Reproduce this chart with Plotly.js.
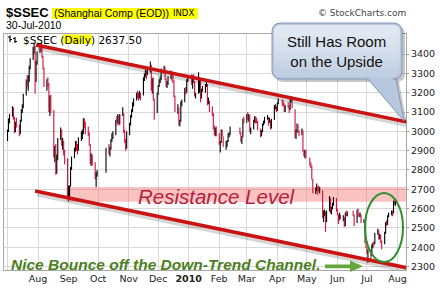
<!DOCTYPE html>
<html>
<head>
<meta charset="utf-8">
<script src="https://cdn.plot.ly/plotly-3.0.1.min.js"></script>
<style>html,body{margin:0;padding:0;background:#fff;}#chart{width:440px;height:289px;}</style>
</head>
<body>
<div id="chart"></div>
<script>
// ---- Data: [day, open, high, low, close] per trading day, grouped by month ----
const jul09 = [[1,2960,3008,2950,3008],[2,3005,3066,2996,3060],[3,3058,3090,3040,3088],[6,3090,3130,3075,3118],[7,3115,3125,3060,3074],[8,3070,3075,2990,3010],[9,3008,3050,2995,3046],[10,3046,3070,3020,3030],[13,3025,3035,2975,2990],[14,2992,3060,2985,3056],[15,3058,3115,3050,3113],[16,3112,3140,3095,3131],[17,3130,3195,3120,3189],[20,3190,3268,3185,3266],[21,3268,3290,3230,3261],[22,3258,3290,3210,3266],[23,3268,3340,3255,3338],[24,3340,3378,3320,3373],[27,3378,3438,3370,3435],[28,3436,3454,3400,3438],[29,3430,3442,3195,3266],[30,3270,3365,3255,3360],[31,3362,3415,3345,3412]];
const aug09 = [[3,3412,3455,3405,3450],[4,3452,3458,3410,3440],[5,3435,3440,3380,3390],[6,3385,3390,3320,3330],[7,3325,3330,3230,3245],[10,3245,3270,3210,3256],[11,3255,3280,3230,3250],[12,3245,3250,3100,3112],[13,3110,3185,3080,3179],[14,3175,3190,3095,3112],[17,3100,3110,2865,2870],[18,2872,2925,2840,2911],[19,2905,2935,2775,2785],[20,2790,2880,2780,2875],[21,2878,2965,2850,2960],[24,2962,3020,2955,3008],[25,3000,3010,2925,2931],[26,2930,2965,2905,2936],[27,2935,2950,2875,2885],[28,2880,2905,2830,2860],[31,2855,2860,2660,2667]];
const sep09 = [[1,2665,2720,2640,2684],[2,2680,2720,2660,2715],[3,2718,2815,2715,2809],[4,2810,2870,2800,2861],[7,2865,2915,2860,2907],[8,2908,2950,2895,2942],[9,2940,2950,2900,2924],[10,2920,2935,2880,2905],[11,2905,2970,2900,2965],[14,2968,3000,2950,2990],[15,2985,3010,2960,2992],[16,2995,3068,2985,3060],[17,3062,3068,3015,3031],[18,3030,3050,2985,3014],[21,3010,3025,2975,2991],[22,2990,2995,2925,2934],[23,2930,2935,2830,2842],[24,2845,2885,2820,2871],[25,2870,2880,2825,2837],[28,2835,2840,2750,2763],[29,2760,2790,2712,2779],[30,2775,2800,2765,2779]];
const oct09 = [[9,2790,2915,2785,2911],[12,2912,2935,2880,2894],[13,2890,2920,2870,2911],[14,2912,2960,2905,2955],[15,2958,2990,2945,2975],[16,2975,3000,2960,2980],[19,2985,3060,2980,3055],[20,3056,3080,3030,3050],[21,3052,3090,3040,3080],[22,3078,3082,3030,3040],[23,3042,3090,3035,3085],[26,3088,3125,3080,3095],[27,3090,3095,2990,3000],[28,2998,3010,2940,2950],[29,2948,2960,2900,2915],[30,2918,3000,2910,2995]];
const nov09 = [[2,2998,3045,2980,3040],[3,3040,3085,3030,3080],[4,3082,3115,3070,3113],[5,3110,3150,3100,3146],[6,3148,3170,3130,3167],[9,3170,3200,3160,3192],[10,3195,3210,3170,3190],[11,3188,3200,3160,3179],[12,3180,3210,3170,3200],[13,3198,3200,3160,3187],[16,3190,3280,3185,3275],[17,3276,3300,3260,3282],[18,3285,3320,3280,3302],[19,3305,3315,3270,3299],[20,3300,3325,3290,3308],[23,3310,3362,3305,3338],[24,3340,3345,3210,3221],[25,3220,3275,3195,3270],[26,3265,3280,3160,3170],[27,3165,3170,3060,3096],[30,3100,3200,3095,3195]];
const dec09 = [[1,3198,3240,3190,3235],[2,3238,3270,3230,3265],[3,3262,3285,3250,3269],[4,3270,3325,3265,3322],[7,3325,3340,3300,3331],[8,3328,3335,3265,3276],[9,3270,3275,3230,3239],[10,3240,3260,3225,3248],[11,3250,3285,3240,3275],[14,3280,3315,3270,3309],[15,3305,3310,3260,3269],[16,3268,3290,3250,3265],[17,3260,3265,3175,3180],[18,3178,3185,3100,3113],[21,3110,3140,3090,3124],[22,3120,3125,3030,3037],[23,3040,3060,3025,3050],[24,3055,3155,3050,3151],[25,3150,3165,3130,3154],[28,3158,3225,3150,3218],[29,3220,3230,3190,3205],[30,3208,3270,3200,3262],[31,3265,3285,3255,3277]];
const jan10 = [[4,3290,3295,3240,3243],[5,3245,3290,3220,3282],[6,3280,3295,3250,3254],[7,3250,3260,3180,3192],[8,3185,3200,3170,3196],[11,3210,3306,3195,3212],[12,3215,3280,3200,3273],[13,3260,3270,3150,3173],[14,3175,3220,3170,3215],[15,3218,3235,3205,3224],[18,3225,3245,3200,3237],[19,3240,3260,3230,3246],[20,3240,3245,3135,3151],[21,3150,3175,3140,3159],[22,3150,3160,3100,3128],[25,3125,3130,3080,3095],[26,3090,3095,3010,3019],[27,3020,3030,2980,2986],[28,2985,3020,2975,3010],[29,3012,3025,2975,2989]];
const feb10 = [[1,2985,2990,2930,2941],[2,2930,2950,2890,2938],[3,2945,3010,2940,3000],[4,3000,3010,2975,2999],[5,2970,2975,2920,2940],[8,2930,2950,2905,2936],[9,2932,2955,2920,2949],[10,2952,2990,2945,2982],[11,2980,2995,2970,2986],[12,2990,3025,2980,3018],[22,3010,3020,2985,2994],[23,2990,2995,2945,2951],[24,2950,2975,2935,2970],[25,2975,3065,2970,3061],[26,3062,3075,3040,3051]];
const mar10 = [[1,3055,3090,3045,3087],[2,3090,3100,3060,3074],[3,3070,3090,3050,3085],[4,3080,3085,2995,3001],[5,3000,3020,2985,3013],[8,3015,3060,3010,3052],[9,3055,3080,3045,3074],[10,3070,3075,3040,3053],[11,3055,3070,3040,3050],[12,3048,3055,3005,3014],[15,3010,3015,2970,2989],[16,2985,3005,2975,2999],[17,3000,3040,2995,3035],[18,3038,3055,3030,3048],[19,3050,3075,3040,3068],[22,3065,3085,3060,3073],[23,3070,3075,3030,3049],[24,3050,3070,3045,3057],[25,3055,3060,3010,3019],[26,3020,3065,3015,3058],[29,3062,3135,3060,3128],[30,3120,3140,3115,3128],[31,3125,3130,3100,3109]];
const apr10 = [[1,3112,3150,3105,3148],[2,3150,3170,3140,3155],[6,3155,3165,3130,3146],[7,3148,3160,3130,3145],[8,3140,3145,3100,3113],[9,3112,3135,3100,3131],[12,3135,3150,3120,3134],[13,3130,3135,3095,3110],[14,3112,3170,3110,3166],[15,3168,3182,3150,3173],[16,3170,3175,3120,3130],[19,3110,3115,2965,2980],[20,2975,3010,2960,3003],[21,3005,3040,2995,3033],[22,3030,3035,2990,2999],[23,2995,3005,2975,2983],[26,2985,3015,2980,3008],[27,3000,3005,2895,2900],[28,2898,2905,2870,2895],[29,2890,2905,2860,2901],[30,2900,2905,2860,2870]];
const may10 = [[4,2860,2865,2820,2835],[5,2830,2840,2810,2827],[6,2820,2825,2750,2758],[7,2750,2755,2680,2688],[10,2690,2710,2675,2698],[11,2700,2730,2690,2715],[12,2712,2715,2670,2700],[13,2702,2720,2690,2696],[14,2695,2710,2680,2697],[17,2690,2695,2550,2559],[18,2560,2590,2530,2578],[19,2575,2595,2560,2588],[20,2580,2585,2480,2560],[21,2555,2590,2530,2584],[24,2590,2665,2585,2660],[25,2650,2655,2575,2582],[26,2580,2610,2570,2600],[27,2605,2630,2595,2626],[28,2625,2660,2615,2655],[31,2650,2655,2585,2592]];
const jun10 = [[1,2590,2600,2565,2571],[2,2565,2570,2520,2541],[3,2545,2580,2540,2571],[4,2565,2570,2545,2553],[7,2550,2565,2535,2555],[8,2550,2555,2505,2513],[9,2515,2580,2510,2571],[10,2570,2590,2560,2568],[11,2565,2585,2560,2569],[17,2575,2590,2560,2570],[18,2565,2570,2510,2514],[21,2530,2595,2525,2588],[22,2590,2600,2560,2568],[23,2565,2575,2555,2563],[24,2560,2580,2555,2569],[25,2565,2570,2525,2535],[28,2530,2545,2525,2536],[29,2530,2535,2420,2427],[30,2425,2440,2395,2398]];
const jul10 = [[1,2395,2400,2365,2373],[2,2370,2390,2319,2383],[5,2380,2385,2330,2363],[6,2365,2415,2355,2409],[7,2410,2425,2395,2421],[8,2420,2430,2405,2417],[9,2420,2475,2415,2470],[12,2472,2495,2465,2490],[13,2485,2490,2440,2448],[14,2450,2470,2440,2461],[15,2460,2465,2420,2425],[16,2425,2435,2390,2424],[19,2420,2480,2415,2475],[20,2478,2530,2470,2528],[21,2530,2540,2510,2520],[22,2522,2565,2515,2562],[23,2565,2580,2555,2572],[26,2570,2590,2565,2575],[27,2578,2590,2560,2575],[28,2580,2640,2575,2634],[29,2635,2650,2620,2632],[30,2630,2650,2615,2638]];
const monthKeys = ['2009-07','2009-08','2009-09','2009-10','2009-11','2009-12','2010-01','2010-02','2010-03','2010-04','2010-05','2010-06','2010-07'];
const monthData = [jul09,aug09,sep09,oct09,nov09,dec09,jan10,feb10,mar10,apr10,may10,jun10,jul10];

const yTicks = [2300,2400,2500,2600,2700,2800,2900,3000,3100,3200,3300,3400];
const xTickDates = ['2009-07-01','2009-08-01','2009-09-01','2009-10-01','2009-11-01','2009-12-01','2010-01-01','2010-02-01','2010-03-01','2010-04-01','2010-05-01','2010-06-01','2010-07-01','2010-08-01'];
const xTickText = ['','Aug','Sep','Oct','Nov','Dec','<b>2010</b>','Feb','Mar','Apr','May','Jun','Jul','Aug'];

// Trend lines & resistance zone (date, value)
const upperLine = [['2009-07-30',3447],['2010-08-13',3046]];
const lowerLine = [['2009-07-29',2691],['2010-08-12',2292]];
const resistance = {x0:'2009-08-30', x1:'2010-08-12', y0:2635, y1:2712};

// ---- build trace ----
const X=[],O=[],H=[],Lo=[],C=[];
monthKeys.forEach((k,i)=>{
  monthData[i].forEach(r=>{
    X.push(k+'-'+String(r[0]).padStart(2,'0'));
    O.push(r[1]);H.push(r[2]);Lo.push(r[3]);C.push(r[4]);
  });
});

const trace = {
  type:'ohlc', x:X, open:O, high:H, low:Lo, close:C,
  increasing:{line:{color:'#000000',width:1.1}},
  decreasing:{line:{color:'#d4103c',width:1.1}},
  tickwidth:0.5, hoverinfo:'skip', showlegend:false
};

// pixel -> paper helpers (plot area: x 4..406, y 34..270)
const PL=4, PR=406, PT=34, PB=270;
const PX = x => (x-PL)/(PR-PL);
const PY = y => (PB-y)/(PB-PT);
const P = (x,y) => PX(x).toFixed(5)+','+PY(y).toFixed(5);
function rrect(x0,y0,x1,y1,r){
  return 'M'+P(x0+r,y0)+' L'+P(x1-r,y0)+' Q'+P(x1,y0)+' '+P(x1,y0+r)+' L'+P(x1,y1-r)+' Q'+P(x1,y1)+' '+P(x1-r,y1)+
         ' L'+P(x0+r,y1)+' Q'+P(x0,y1)+' '+P(x0,y1-r)+' L'+P(x0,y0+r)+' Q'+P(x0,y0)+' '+P(x0+r,y0)+' Z';
}
function bubble(dx,dy){
  const x0=272+dx,y0=23+dy,x1=402+dx,y1=79+dy,r=9;
  return 'M'+P(x0+r,y0)+' L'+P(x1-r,y0)+' Q'+P(x1,y0)+' '+P(x1,y0+r)+' L'+P(x1,y1-r)+' Q'+P(x1,y1)+' '+P(x1-r,y1)+
    ' L'+P(396+dx,y1)+' L'+P(404+dx,121+dy)+' L'+P(368+dx,y1)+
    ' L'+P(x0+r,y1)+' Q'+P(x0,y1)+' '+P(x0,y1-r)+' L'+P(x0,y0+r)+' Q'+P(x0,y0)+' '+P(x0+r,y0)+' Z';
}
const pap = {xref:'paper',yref:'paper'};
const shapes = [];
// resistance band
shapes.push({type:'rect',xref:'x',yref:'y',x0:resistance.x0,x1:resistance.x1,y0:resistance.y0,y1:resistance.y1,
  fillcolor:'rgba(245,110,110,0.42)',line:{width:0},layer:'between'});
// trend line shadows + lines
const shift = (d,days)=>{const t=new Date(d+'T00:00:00Z');t.setUTCDate(t.getUTCDate()+days);return t.toISOString().slice(0,10);};
[upperLine,lowerLine].forEach(l=>{
  shapes.push({type:'line',xref:'x',yref:'y',x0:shift(l[0][0],2),y0:l[0][1]-16,x1:shift(l[1][0],2),y1:l[1][1]-16,
    line:{color:'rgba(0,0,0,0.16)',width:5},layer:'above'});
  shapes.push({type:'line',xref:'x',yref:'y',x0:l[0][0],y0:l[0][1],x1:l[1][0],y1:l[1][1],
    line:{color:'#cc1111',width:3.5},layer:'above'});
});
// green ellipse
shapes.push(Object.assign({type:'circle',x0:PX(365),x1:PX(403),y0:PY(262),y1:PY(193),line:{color:'#2e8f2e',width:2},fillcolor:'rgba(0,0,0,0)',layer:'above'},pap));
// green arrow
shapes.push(Object.assign({type:'path',path:'M'+P(325,264.5)+' L'+P(350,264.5)+' L'+P(350,260.5)+' L'+P(363,266.3)+' L'+P(350,272)+' L'+P(350,268.2)+' L'+P(325,268.2)+' Z',
  fillcolor:'#64a63a',line:{width:0},layer:'above'},pap));
// callout bubble
shapes.push(Object.assign({type:'path',path:bubble(3,3),fillcolor:'rgba(0,0,0,0.22)',line:{width:0},layer:'above'},pap));
shapes.push(Object.assign({type:'path',path:bubble(0,0),fillcolor:'#b7c7de',line:{color:'#8798b6',width:1},layer:'above'},pap));
[77,69,61,53,45,37].forEach(yb=>{
  shapes.push(Object.assign({type:'path',path:rrect(274,25,400,yb,7),fillcolor:'rgba(255,255,255,0.14)',line:{width:0},layer:'above'},pap));
});
// yellow highlights
shapes.push(Object.assign({type:'rect',x0:PX(52),x1:PX(198),y0:PY(19),y1:PY(8),fillcolor:'#ffff00',line:{width:0},layer:'above'},pap));
shapes.push(Object.assign({type:'rect',x0:PX(63),x1:PX(92),y0:PY(44),y1:PY(34.5),fillcolor:'#ffff00',line:{width:0},layer:'above'},pap));
// tiny OHLC legend icon
[[10,35.5,42,37,39.5],[15,37,43,38.5,41.5]].forEach(g=>{
  shapes.push(Object.assign({type:'line',x0:PX(g[0]),x1:PX(g[0]),y0:PY(g[1]),y1:PY(g[2]),line:{color:'#000',width:1.2},layer:'above'},pap));
  shapes.push(Object.assign({type:'line',x0:PX(g[0]-2),x1:PX(g[0]),y0:PY(g[3]),y1:PY(g[3]),line:{color:'#000',width:1.2},layer:'above'},pap));
  shapes.push(Object.assign({type:'line',x0:PX(g[0]),x1:PX(g[0]+2),y0:PY(g[4]),y1:PY(g[4]),line:{color:'#000',width:1.2},layer:'above'},pap));
});

const ann = (t,x,y,font,xa)=>Object.assign({text:t,x:PX(x),y:PY(y),xanchor:xa||'left',yanchor:'middle',showarrow:false,borderpad:0,font:font},pap);
const annotations = [
  ann('$SSEC',5,12.5,{family:'Liberation Sans, Arial',size:13,color:'#000',weight:'bold'}),
  ann('(Shanghai Comp (EOD))',53,13.5,{family:'Liberation Sans, Arial',size:10.5,color:'#000'}),
  ann('INDX',172,13.5,{family:'DejaVu Sans',size:8.5,color:'#000'}),
  ann('30-Jul-2010',5,25.5,{family:'Liberation Sans, Arial',size:10.5,color:'#000'}),
  ann('© StockCharts.com',317,13.5,{family:'DejaVu Sans',size:9,color:'#444'}),
  ann('$SSEC (Daily) 2637.50',21.5,39.5,{family:'DejaVu Sans',size:10.5,color:'#000'}),
  ann('Still Has Room<br>on the Upside',336,51,{family:'Liberation Sans, Arial',size:15,color:'#111'},'center'),
  ann('Resistance Level',217,196,{family:'Liberation Sans, Arial',size:20.5,color:'#b5203a',style:'italic'},'center'),
  ann('Nice Bounce off the Down-Trend Channel.',165.5,264,{family:'Liberation Sans, Arial',size:15.5,color:'#4b8022',style:'italic',weight:'bold'},'center')
];

const layout = {
  width:440,height:289,
  margin:{l:PL,r:440-PR,t:PT,b:289-PB,pad:0},
  paper_bgcolor:'#ffffff',plot_bgcolor:'#ffffff',
  showlegend:false,hovermode:false,
  xaxis:{type:'date',range:['2009-06-27 10:00','2010-08-09 16:00'],rangeslider:{visible:false},
    tickmode:'array',tickvals:xTickDates,ticktext:xTickText,
    showgrid:true,gridcolor:'#d9d9d9',gridwidth:1,zeroline:false,
    showline:true,mirror:true,linecolor:'#a8a8a8',linewidth:1,
    ticks:'',tickfont:{family:'DejaVu Sans',size:9.5,color:'#222'}},
  yaxis:{side:'right',range:[2282,3504],tickmode:'array',tickvals:yTicks,
    showgrid:true,gridcolor:'#d9d9d9',gridwidth:1,zeroline:false,
    showline:true,mirror:true,linecolor:'#a8a8a8',linewidth:1,
    ticks:'outside',ticklen:2,tickcolor:'#999',tickfont:{family:'DejaVu Sans',size:9.5,color:'#222'}},
  shapes:shapes,annotations:annotations
};
Plotly.newPlot('chart',[trace],layout,{staticPlot:true,displayModeBar:false});
</script>
</body>
</html>
